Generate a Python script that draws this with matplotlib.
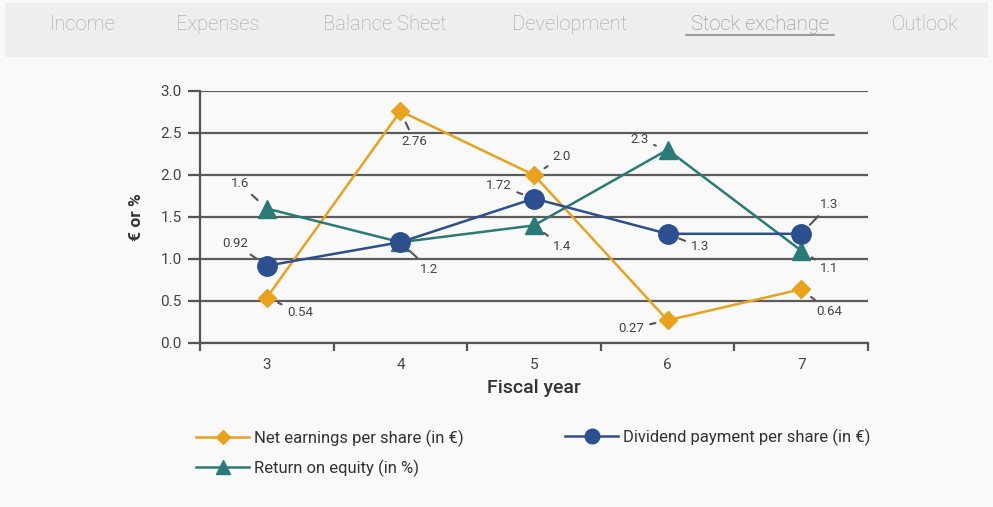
import numpy as np
import matplotlib.pyplot as plt
from matplotlib.patches import Rectangle
from matplotlib.lines import Line2D

plt.rcParams['font.family'] = ['Roboto', 'DejaVu Sans']

# data
years = [3, 4, 5, 6, 7]
net_earnings = [0.54, 2.76, 2.0, 0.27, 0.64]
dividend = [0.92, 1.2, 1.72, 1.3, 1.3]
roe = [1.6, 1.2, 1.4, 2.3, 1.1]

tabs = ["Income", "Expenses", "Balance Sheet", "Development", "Stock exchange", "Outlook"]
tab_x = [82, 218, 385, 569, 760, 925]

c_orange = '#e8a21c'
c_blue = '#2c4f8f'
c_teal = '#2a7a78'
bg = '#f9f9f9'

fig = plt.figure(figsize=(9.93, 5.07), dpi=100, facecolor=bg)

# nav bar
fig.patches.append(Rectangle((5/993, 1 - 57/507), 983/993, 54/507,
                             transform=fig.transFigure, facecolor='#eeeeee',
                             edgecolor='none', zorder=0))
for t, x in zip(tabs, tab_x):
    col = '#8c8c8c' if t == "Stock exchange" else '#a4a4a4'
    fig.text(x/993, 1 - 24/507, t, ha='center', va='center',
             fontsize=14.5, color=col, fontweight='light')
fig.lines.append(Line2D([686/993, 834/993], [1 - 35/507, 1 - 35/507],
                        transform=fig.transFigure, color='#8c8c8c', lw=1.2))

ax = fig.add_axes([200/993, (507-343)/507, 668/993, 252/507], facecolor=bg)

l_ne, = ax.plot(years, net_earnings, color=c_orange, lw=1.8, marker='D', ms=9,
                zorder=3, label='Net earnings per share (in €)')
l_roe, = ax.plot(years, roe, color=c_teal, lw=1.8, marker='^', ms=13,
                 zorder=4, label='Return on equity (in %)')
l_div, = ax.plot(years, dividend, color=c_blue, lw=1.8, marker='o', ms=14,
                 zorder=5, label='Dividend payment per share (in €)')

ax.set_xlim(2.5, 7.5)
ax.set_ylim(0, 3.0)
ax.set_yticks(np.arange(0, 3.01, 0.5))
ax.set_yticklabels(['%.1f' % v for v in np.arange(0, 3.01, 0.5)])
ax.set_xticks(years)
ax.set_xticks([2.5, 3.5, 4.5, 5.5, 6.5, 7.5], minor=True)
ax.tick_params(axis='x', which='major', length=0, pad=11, labelsize=11, colors='#444444')
ax.tick_params(axis='x', which='minor', length=6, width=1.6, color='#555555', direction='out')
ax.tick_params(axis='y', length=9, width=1.6, color='#555555', labelsize=11,
               labelcolor='#444444', pad=4)
ax.grid(axis='y', color='#5c5c5c', lw=1.6, zorder=1)
ax.set_axisbelow(True)
for s in ['top', 'right']:
    ax.spines[s].set_visible(False)
for s in ['left', 'bottom']:
    ax.spines[s].set_color('#555555')
    ax.spines[s].set_linewidth(1.6)

ax.set_xlabel('Fiscal year', fontsize=14, color='#333333', fontweight='medium', labelpad=5)
ax.set_ylabel('€ or %', fontsize=12.5, color='#333333', fontweight='bold', labelpad=12)

# value labels (offsets in pixels)
ne_off = [(33, -15), (14, -30), (28, 18), (-36, -8), (28, -22)]
div_off = [(-32, 22), (29, -27), (-35, 13), (32, -13), (28, 29)]
roe_off = [(-27, 25), None, (28, -21), (-28, 10), (28, -18)]


def label(xs, ys, offs):
    for x, y, o in zip(xs, ys, offs):
        if o is None:
            continue
        ax.annotate('%.1f' % y if y == 2.0 else '%g' % y, (x, y), xytext=o,
                    textcoords='offset pixels', ha='center', va='center',
                    fontsize=9.5, color='#444444', zorder=6,
                    arrowprops=dict(arrowstyle='-', color='#555555', lw=1.5,
                                    shrinkA=2, shrinkB=9))


label(years, net_earnings, ne_off)
label(years, dividend, div_off)
label(years, roe, roe_off)

leg_kw = dict(loc='center left', frameon=False, fontsize=12, handlelength=3.2,
              handletextpad=0.3, labelspacing=0.75, markerscale=0.75,
              labelcolor='#333333', borderaxespad=0, borderpad=0)
leg1 = fig.legend([l_ne, l_roe], [l_ne.get_label(), l_roe.get_label()],
                  bbox_to_anchor=(196/993, 1 - 453/507), **leg_kw)
leg2 = fig.legend([l_div], [l_div.get_label()],
                  bbox_to_anchor=(565/993, 1 - 437/507), **leg_kw)

fig.savefig('out.png', dpi=100, facecolor=bg)
